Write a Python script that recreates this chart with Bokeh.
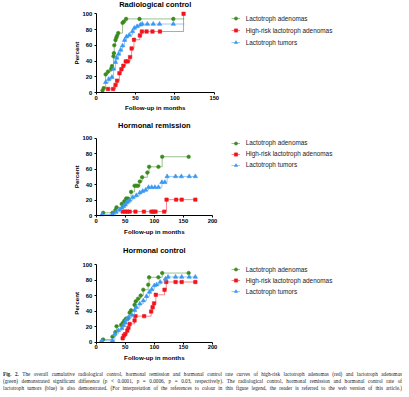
import math
from bokeh.plotting import figure
from bokeh.models import Range1d, FixedTicker, Legend, LegendItem, Label, Div
from bokeh.layouts import column
from bokeh.embed import file_html
from bokeh.resources import INLINE

# ---------------- data ----------------
series_names = ["Lactotroph adenomas", "High-risk lactotroph adenomas", "Lactotroph tumors"]
percent_ticks = [0, 20, 40, 60, 80, 100]
months_ticks_rad = [0, 50, 100, 150]
months_ticks_horm = [0, 50, 100, 150, 200]
x_label = "Follow-up in months"
y_label = "Percent"

# Radiological control
rad_aden_t = [8, 9.5, 12, 15, 19, 20, 22, 22.5, 23, 24.5, 25.5, 26.5, 28, 33.5, 35, 38, 55, 98]
rad_aden_p = [2.5, 5.5, 23, 26.5, 30, 33.5, 46, 50, 60, 66.5, 69.5, 72, 75.5, 88.5, 90, 93.5, 93.5, 93.5]
rad_high_t = [15, 21.5, 24.5, 26.5, 29.5, 32, 34.5, 37.5, 40, 43, 45, 48, 55.5, 58, 64, 71.5, 81, 111]
rad_high_p = [4.5, 4.5, 9.5, 15, 24.5, 29.5, 34, 39.5, 39.5, 45, 56, 67, 72.5, 77.5, 77.5, 77.5, 77.5, 100]
rad_tum_t = [12, 16, 20, 22, 24.5, 26, 28.5, 31, 33.5, 36, 38.5, 42, 46, 48.5, 52, 56, 58.5, 65, 72.5, 80.5, 98]
rad_tum_p = [13, 17, 19.5, 30, 38.5, 44, 49, 54, 59.5, 66.5, 71, 73, 77.5, 82, 84, 86, 87, 87, 87, 87, 87]
rad_followup_end = [112, 111, 112]

# Hormonal remission
rem_aden_t = [12, 28, 33, 35, 44, 48.5, 51.5, 54.5, 60, 66, 69, 72, 75, 79, 88, 91, 107, 113.5, 159]
rem_aden_p = [3.5, 3.5, 7, 10.5, 15, 18.5, 22, 22, 30.5, 38.5, 38.5, 38.5, 44, 49.5, 55.5, 63, 63, 76, 76]
rem_high_t = [45.5, 50, 53.5, 57.5, 67.5, 82, 95, 98.5, 102, 117, 121, 137.5, 147, 170.5]
rem_high_p = [5, 5, 5, 5, 5, 5, 5, 5, 5, 5, 20.5, 20.5, 20.5, 20.5]
rem_tum_t = [10, 28, 34, 40, 44, 47, 50, 52, 55, 57.5, 63, 69, 75, 80, 85, 90, 95.5, 101, 107, 113, 118, 122, 136.5, 146.5, 160, 170.5]
rem_tum_p = [1.3, 1.3, 4.5, 7.5, 10, 12, 14, 16.5, 18, 20, 23.5, 26, 29.5, 31.5, 33, 36.5, 36.5, 36.5, 36.5, 43, 43, 50.5, 50.5, 50.5, 50.5, 50.5]
rem_followup_end = [159, 170.5, 170.5]

# Hormonal control
ctl_aden_t = [12, 28, 33, 35, 43, 46, 48.5, 51.5, 54.5, 57.5, 60, 66, 68, 72, 76.5, 81, 89.5, 91, 107, 113.5, 159]
ctl_aden_p = [3.5, 7, 13, 20.5, 22.5, 25, 28, 30.5, 30.5, 38, 41, 48, 52.5, 56, 60, 67.5, 74, 83.5, 83.5, 89, 89]
ctl_high_t = [45.5, 47.5, 50, 53.5, 55.5, 57.5, 66, 67.5, 82.5, 94.5, 97, 99.5, 102.5, 117.5, 120.5, 136.5, 147, 170.5]
ctl_high_p = [5, 8.5, 10.5, 15, 18.5, 23.5, 28, 33.5, 33.5, 39.5, 45, 50, 61, 67.5, 77.5, 77.5, 77.5, 77.5]
ctl_tum_t = [9.5, 28, 32, 38, 44, 47, 50, 52, 55.5, 61.5, 66, 69, 75, 81, 86.5, 91.5, 95.5, 100, 104, 110, 119, 123.5, 136.5, 147, 160, 170.5]
ctl_tum_p = [2, 2, 10.5, 15, 18, 21.5, 25, 29, 32, 35, 41, 45, 49.5, 53.5, 59, 64.5, 68, 73, 74, 77.5, 81.5, 84, 84, 84, 84, 84]
ctl_followup_end = [159, 170.5, 170.5]

caption_lead = "Fig. 2."
caption_lines = [
    "The overall cumulative radiological control, hormonal remission and hormonal control rate curves of high-risk lactotroph adenomas (red) and lactotroph adenomas",
    "(green) demonstrated significant difference (p &lt; 0.0001, p = 0.0006, p = 0.03, respectively). The radiological control, hormonal remission and hormonal control rate of",
    "lactotroph tumors (blue) is also demonstrated. (For interpretation of the references to colour in this figure legend, the reader is referred to the web version of this article.)",
]

# ---------------- style ----------------
COLORS = ["#3a8a1e", "#f2141c", "#3898f2"]
MARKERS = ["circle", "square", "triangle"]
SIZES = [3.6, 3.4, 4.4]
FONT = "Liberation Sans"
W = 408
X0 = 95.7  # pixel column of the y axis


def make_panel(title, series, ends, x_max, x_ticks, px_x, px_y, h, y0, title_dy,
               xlab_dy, leg_top, leg_spacing):
    # y0: pixel row of the x axis from the figure top
    p = figure(width=W, height=h,
               x_range=Range1d(-X0 / px_x, (W - X0) / px_x),
               y_range=Range1d(-(h - y0) / px_y, y0 / px_y),
               output_backend="svg", toolbar_location=None, min_border=0,
               min_border_left=0, min_border_right=0, min_border_top=0, min_border_bottom=0)
    p.outline_line_color = None
    p.xgrid.grid_line_color = None
    p.ygrid.grid_line_color = None

    # title above the plotting area
    p.add_layout(Label(x=x_max / 2, y=title_dy / px_y, text=title, text_align="center",
                       text_baseline="middle", text_font=FONT, text_font_size="7.5px",
                       text_font_style="bold", text_color="black"))
    # axis titles
    p.add_layout(Label(x=x_max / 2, y=-xlab_dy / px_y, text=x_label, text_align="center",
                       text_baseline="middle", text_font=FONT, text_font_size="6.2px",
                       text_font_style="bold", text_color="black"))
    p.add_layout(Label(x=-19.7 / px_x, y=50, text=y_label, text_align="center",
                       text_baseline="middle", angle=math.pi / 2, text_font=FONT,
                       text_font_size="6.2px", text_font_style="bold", text_color="black"))

    items = []
    for i, (t, pc) in enumerate(series):
        lx = list(t) + [ends[i]]
        ly = list(pc) + [pc[-1]]
        lr = p.step(lx, ly, mode="after", line_color=COLORS[i], line_alpha=0.5, line_width=1)
        sr = p.scatter(t, pc, marker=MARKERS[i], size=SIZES[i], fill_color=COLORS[i],
                       line_color=COLORS[i], line_width=0.6)
        items.append(LegendItem(label=series_names[i], renderers=[lr, sr]))

    n = len(items)
    leg_h = n * 8 + (n - 1) * leg_spacing
    leg = Legend(items=items, location=(230.7, h - leg_top - leg_h), padding=0, margin=0,
                 spacing=leg_spacing, glyph_width=9, glyph_height=8, label_height=8,
                 label_standoff=6, label_text_font=FONT, label_text_font_size="6.4px",
                 label_text_color="#222222", border_line_color=None,
                 background_fill_alpha=0)
    p.add_layout(leg)

    p.xaxis.ticker = FixedTicker(ticks=x_ticks)
    p.yaxis.ticker = FixedTicker(ticks=percent_ticks)
    p.xaxis.bounds = (0, x_max)
    p.yaxis.bounds = (0, 100)
    p.xaxis.fixed_location = 0
    p.yaxis.fixed_location = 0
    for ax in (p.xaxis[0], p.yaxis[0]):
        ax.axis_line_color = "black"
        ax.axis_line_width = 1
        ax.major_tick_line_color = "black"
        ax.major_tick_out = 2
        ax.major_tick_in = 0
        ax.minor_tick_line_color = None
        ax.major_label_text_font = FONT
        ax.major_label_text_font_size = "5.8px"
        ax.major_label_text_font_style = "bold"
        ax.major_label_text_color = "black"
    p.xaxis.major_label_standoff = 1
    p.yaxis.major_label_standoff = 2
    return p


p1 = make_panel("Radiological control",
                [(rad_aden_t, rad_aden_p), (rad_high_t, rad_high_p), (rad_tum_t, rad_tum_p)],
                rad_followup_end, 150, months_ticks_rad, 0.787, 0.787, 117, 92, 88, 15,
                14.3, 4)
p2 = make_panel("Hormonal remission",
                [(rem_aden_t, rem_aden_p), (rem_high_t, rem_high_p), (rem_tum_t, rem_tum_p)],
                rem_followup_end, 200, months_ticks_horm, 0.5815, 0.773, 124, 98, 90.3, 15.7,
                21.7, 3)
p3 = make_panel("Hormonal control",
                [(ctl_aden_t, ctl_aden_p), (ctl_high_t, ctl_high_p), (ctl_tum_t, ctl_tum_p)],
                ctl_followup_end, 200, months_ticks_horm, 0.5815, 0.777, 125, 100.7, 91.7, 15,
                24.3, 3)

line_style = "text-align:justify;text-align-last:justify;white-space:normal;height:7px;overflow:hidden;"
html = ('<div style="font-family:\'Liberation Serif\';font-size:5.2px;line-height:7px;'
        'color:#222;padding-top:4.5px;margin-left:3px;width:399px;">')
html += '<div style="%s"><b>%s</b> %s</div>' % (line_style, caption_lead, caption_lines[0])
html += '<div style="%s">%s</div>' % (line_style, caption_lines[1])
html += '<div style="%s">%s</div>' % (line_style, caption_lines[2])
html += '</div>'
cap = Div(text=html, width=W, height=30, margin=(0, 0, 0, 0))

layout = column(p1, p2, p3, cap, spacing=0)
open("out.html", "w").write(file_html(layout, INLINE))
